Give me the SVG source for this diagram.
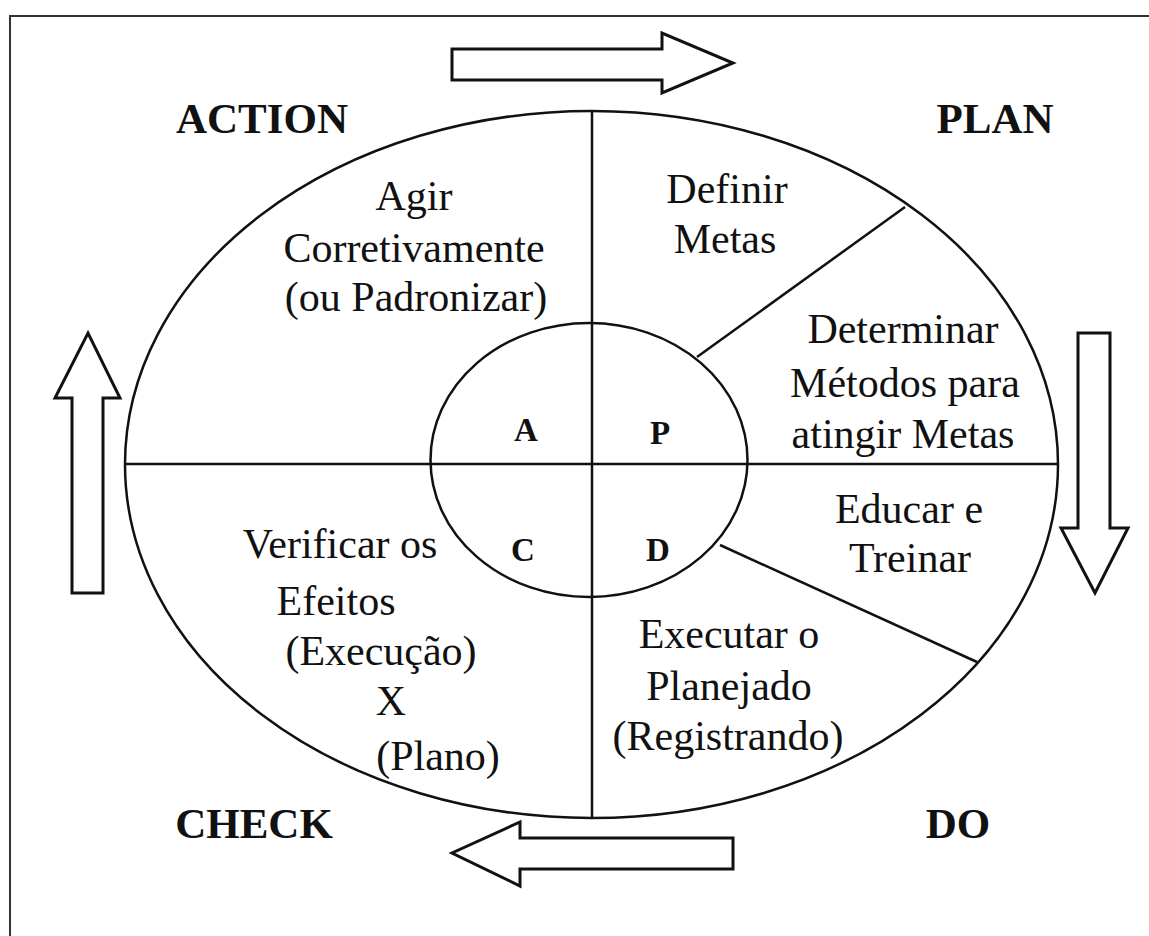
<svg xmlns="http://www.w3.org/2000/svg" width="1149" height="936" viewBox="0 0 1149 936">
<style>
.frame{fill:none;stroke:#333;stroke-width:2}
.line{fill:none;stroke:#111;stroke-width:2.5}
.arrow{fill:#fff;stroke:#111;stroke-width:3;stroke-linejoin:miter}
.t{font-family:"Liberation Serif","Times New Roman",serif;font-size:42px;fill:#111;text-anchor:middle}
.b{font-family:"Liberation Serif","Times New Roman",serif;font-weight:bold;font-size:43px;fill:#111;text-anchor:middle}
.s{font-family:"Liberation Serif","Times New Roman",serif;font-weight:bold;font-size:33px;fill:#111;text-anchor:middle}
</style>
<rect width="1149" height="936" fill="#fff"/>
<rect class="frame" x="10" y="16" width="1150" height="930"/>
<g id="connectors">
<ellipse class="line" cx="591.5" cy="464.5" rx="466.5" ry="353.5"/>
<line class="line" x1="592" y1="111" x2="592" y2="818"/>
<line class="line" x1="125" y1="464" x2="1058" y2="464" stroke-width="3.5"/>
<line class="line" x1="697" y1="357" x2="905" y2="207"/>
<line class="line" x1="720" y1="545" x2="977" y2="662"/>
</g>
<g id="inner">
<ellipse class="line" cx="589" cy="460" rx="158.5" ry="137"/>
<text class="s" x="526" y="441">A</text>
<text class="s" x="660" y="444">P</text>
<text class="s" x="523" y="561">C</text>
<text class="s" x="658" y="561">D</text>
</g>
<g id="arrow-top"><polygon class="arrow" points="452,49 662,49 662,33 733,63 662,93 662,80 452,80"/></g>
<g id="arrow-right"><polygon class="arrow" points="1078,333 1110,333 1110,528 1128,528 1095,593 1061,528 1078,528"/></g>
<g id="arrow-bottom"><polygon class="arrow" points="733,838 520,838 520,822 452,853 520,886 520,869 733,869"/></g>
<g id="arrow-left"><polygon class="arrow" points="72,593 103,593 103,398 120,398 88,333 55,398 72,398"/></g>
<g id="action">
<text class="b" x="262" y="133">ACTION</text>
<text class="t" x="414" y="210">Agir</text>
<text class="t" x="414" y="262">Corretivamente</text>
<text class="t" x="416" y="311">(ou Padronizar)</text>
</g>
<g id="plan">
<text class="b" x="995" y="133">PLAN</text>
<text class="t" x="727" y="203">Definir</text>
<text class="t" x="725" y="253">Metas</text>
<text class="t" x="903" y="343">Determinar</text>
<text class="t" x="905" y="397">Métodos para</text>
<text class="t" x="903" y="448">atingir Metas</text>
</g>
<g id="do">
<text class="b" x="958" y="838">DO</text>
<text class="t" x="909" y="523">Educar e</text>
<text class="t" x="910" y="572">Treinar</text>
<text class="t" x="729" y="648">Executar o</text>
<text class="t" x="729" y="700">Planejado</text>
<text class="t" x="728" y="750">(Registrando)</text>
</g>
<g id="check">
<text class="b" x="254" y="838">CHECK</text>
<text class="t" x="340" y="558">Verificar os</text>
<text class="t" x="336" y="615">Efeitos</text>
<text class="t" x="381" y="665">(Execução)</text>
<text class="t" x="391" y="715">X</text>
<text class="t" x="438" y="770">(Plano)</text>
</g>
</svg>
